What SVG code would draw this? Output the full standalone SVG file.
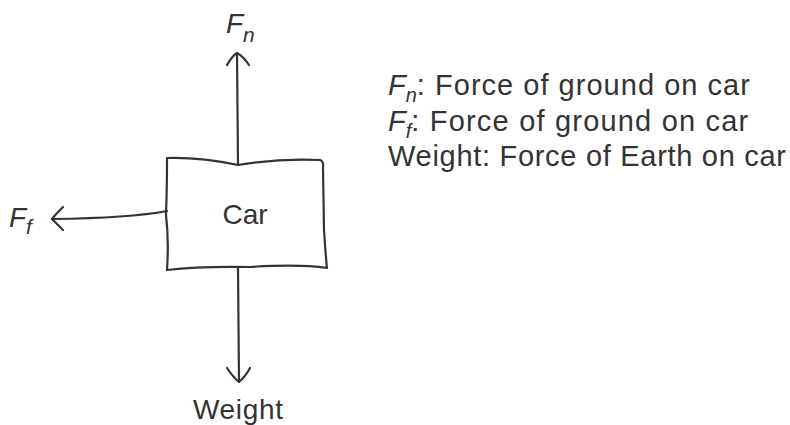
<svg xmlns="http://www.w3.org/2000/svg" width="790" height="425" viewBox="0 0 790 425">
<style>
.ln{fill:none;stroke:#333;stroke-width:2.2;stroke-linecap:round;stroke-linejoin:round}
.t{font-family:"Liberation Sans",Arial,sans-serif;fill:#333}
.i{font-style:italic}
</style>
<rect width="790" height="425" fill="#fff"/>
<g id="car">
<path class="ln" d="M167,158 Q200,157 238,165 Q280,158 320,160 Q324,161 323,168 L324,230 Q326,260 327,268 Q300,264 250,267 Q200,266 167,270 Q169,240 166,215 Q167,190 167,158 Z"/>
<text class="t" x="245" y="224" font-size="28" text-anchor="middle">Car</text>
</g>
<g id="connectors">
<path class="ln" d="M238,165 L237,53"/>
<path class="ln" d="M227,65 Q233,55 237,53 Q243,56 249,65"/>
<path class="ln" d="M167,211 Q130,218 52,219"/>
<path class="ln" d="M63,207 Q56,214 52,219 Q57,224 63,230"/>
<path class="ln" d="M238,268 L239,382"/>
<path class="ln" d="M227,368 Q233,377 239,382 Q245,377 250,368"/>
</g>
<g id="fn-label">
<text class="t i" x="226" y="33" font-size="28">F<tspan font-size="21" dy="9">n</tspan></text>
</g>
<g id="ff-label">
<text class="t i" x="9" y="227" font-size="28">F<tspan font-size="21" dy="7">f</tspan></text>
</g>
<g id="weight-label">
<text class="t" x="238" y="419" font-size="28" text-anchor="middle" textLength="90">Weight</text>
</g>
<g id="legend">
<text class="t" x="388" y="95" font-size="29"><tspan class="i">F</tspan><tspan class="i" font-size="20" dy="7">n</tspan><tspan dy="-7" textLength="333">: Force of ground on car</tspan></text>
<text class="t" x="388" y="131" font-size="29"><tspan class="i">F</tspan><tspan class="i" font-size="20" dy="7">f</tspan><tspan dy="-7" textLength="337">: Force of ground on car</tspan></text>
<text class="t" x="388" y="166" font-size="29" textLength="398">Weight: Force of Earth on car</text>
</g>
</svg>
